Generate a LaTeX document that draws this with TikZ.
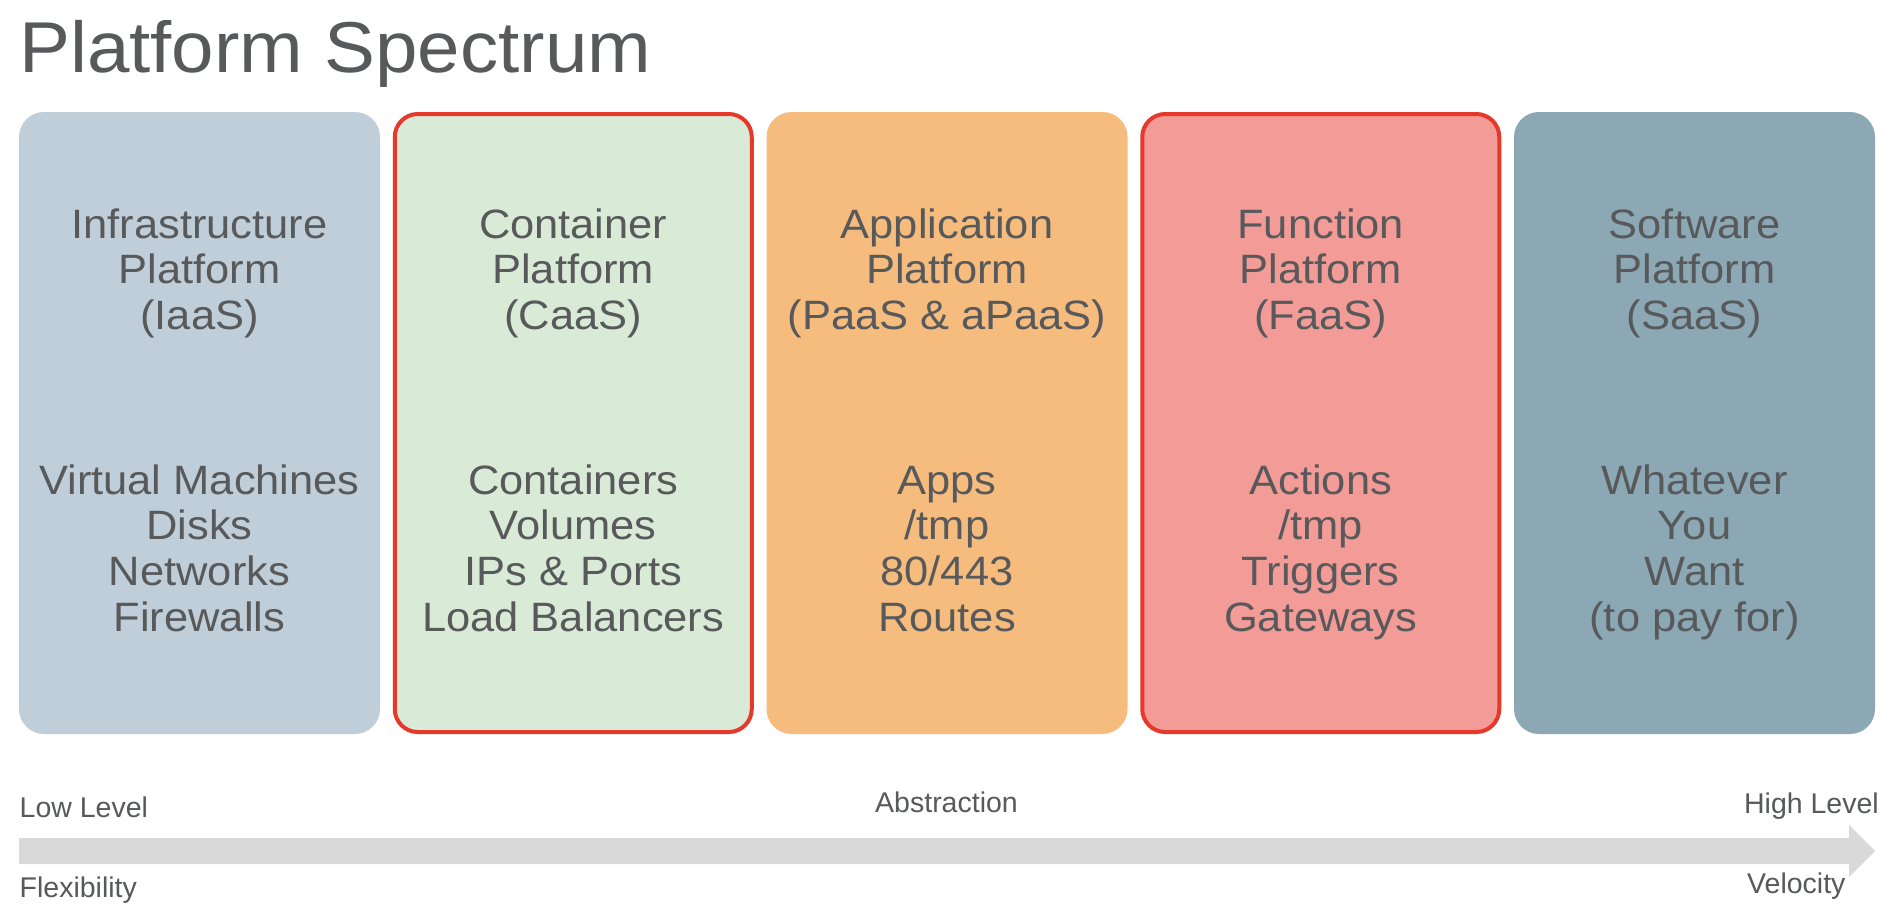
\documentclass[tikz,border=0pt]{standalone}
\usepackage{fontspec}
\setmainfont{Liberation Sans}
\newfontfamily\widefont{Liberation Sans}[FakeStretch=1.06]
\definecolor{txt}{RGB}{88,89,91}
\definecolor{iaas}{RGB}{191,206,216}
\definecolor{caas}{RGB}{217,235,215}
\definecolor{paas}{RGB}{246,188,126}
\definecolor{faas}{RGB}{242,155,151}
\definecolor{saas}{RGB}{139,168,180}
\definecolor{hl}{RGB}{230,57,43}
\definecolor{barc}{RGB}{217,217,217}
\tikzset{
  panel/.style={rectangle, rounded corners=25pt, minimum width=361pt, minimum height=622pt, inner sep=0pt},
  hilite/.style={draw=hl, line width=4pt, minimum width=357pt, minimum height=618pt, rounded corners=23pt},
  blocktext/.style={align=center, anchor=north, inner sep=0pt, text=txt, font=\widefont\fontsize{41}{45.7}\selectfont},
  axislabel/.style={inner sep=0pt, text=txt, font=\fontsize{28.5}{34}\selectfont},
}
\newcommand{\fs}{\rule{0pt}{34pt}}
\begin{document}
\begin{tikzpicture}[x=1pt, y=-1pt]
\useasboundingbox (0,0) rectangle (1890,914);
\fill[white] (0,0) rectangle (1890,914);

\node[anchor=base west, inner sep=0pt, text=txt, font=\widefont\fontsize{72}{80}\selectfont] (title) at (19,72) {Platform Spectrum};

% panels
\node[panel, fill=iaas] (p1) at (199.5,423) {};
\node[panel, hilite, fill=caas] (p2) at (573.25,423) {};
\node[panel, fill=paas] (p3) at (947,423) {};
\node[panel, hilite, fill=faas] (p4) at (1320.75,423) {};
\node[panel, fill=saas] (p5) at (1694.5,423) {};

% panel texts
\node[blocktext] (t1) at (199.5,204) {\fs Infrastructure\\Platform\\(IaaS)};
\node[blocktext] (b1) at (199.5,460) {\fs Virtual Machines\\Disks\\Networks\\Firewalls};
\node[blocktext] (t2) at (573.25,204) {\fs Container\\Platform\\(CaaS)};
\node[blocktext] (b2) at (573.25,460) {\fs Containers\\Volumes\\IPs \& Ports\\Load Balancers};
\node[blocktext] (t3) at (947,204) {\fs Application\\Platform\\(PaaS \& aPaaS)};
\node[blocktext] (b3) at (947,460) {\fs Apps\\/tmp\\80/443\\Routes};
\node[blocktext] (t4) at (1320.75,204) {\fs Function\\Platform\\(FaaS)};
\node[blocktext] (b4) at (1320.75,460) {\fs Actions\\/tmp\\Triggers\\Gateways};
\node[blocktext] (t5) at (1694.5,204) {\fs Software\\Platform\\(SaaS)};
\node[blocktext] (b5) at (1694.5,460) {\fs Whatever\\You\\Want\\(to pay for)};

% axis arrow
\coordinate (arrowtail) at (19,851);
\coordinate (arrowtip) at (1875,851);
\fill[barc] (19,838) -- (1849,838) -- (1849,825) -- (arrowtip) -- (1849,877) -- (1849,864) -- (19,864) -- cycle;

% axis labels
\node[axislabel, anchor=base west] (low) at (19.5,817) {Low Level};
\node[axislabel, anchor=base west] (flex) at (19.5,897) {Flexibility};
\node[axislabel, anchor=base] (abs) at (946.5,812) {Abstraction};
\node[axislabel, anchor=base east] (high) at (1879,813) {High Level};
\node[axislabel, anchor=base west] (vel) at (1747,893) {Velocity};
\end{tikzpicture}
\end{document}
